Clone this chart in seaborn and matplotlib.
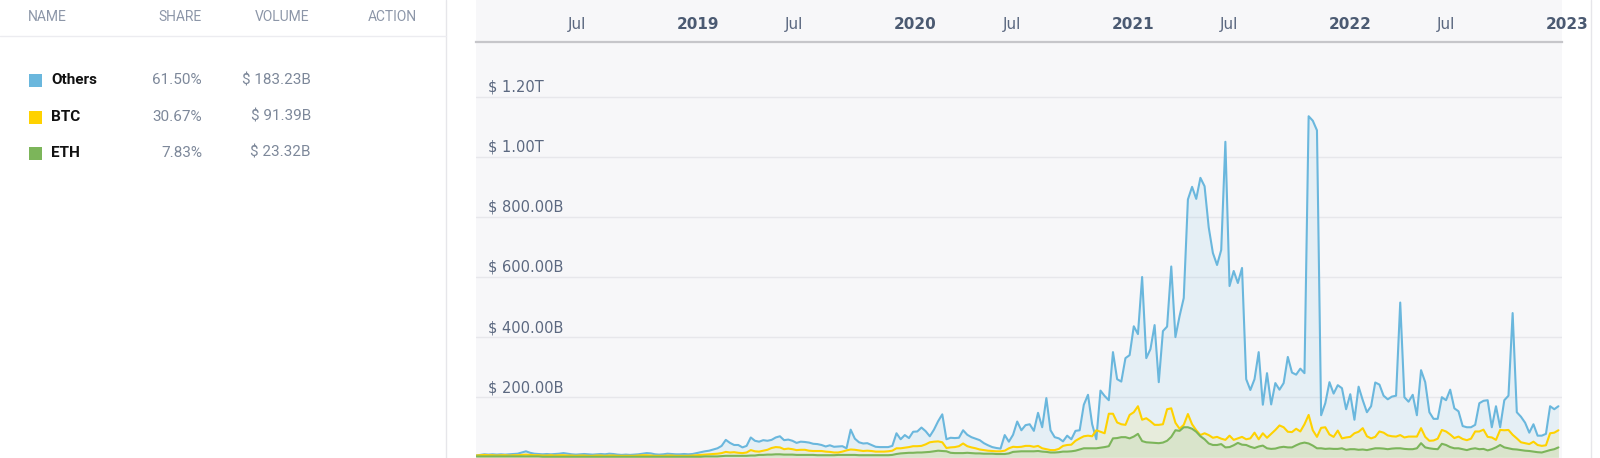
import pandas as pd
import matplotlib
matplotlib.use("Agg")
import matplotlib.pyplot as plt
import seaborn as sns
from matplotlib.patches import Rectangle
from matplotlib.lines import Line2D

# weekly trading volume, billions of USD
start_date = "2018-01-28"
others = [
    6, 8, 10, 9, 10, 9, 10, 9, 10, 11,
    12, 16, 20, 15, 12, 11, 10, 11, 10, 11,
    12, 14, 12, 10, 9, 10, 11, 10, 9, 10,
    11, 10, 12, 11, 9, 8, 9, 8, 9, 10,
    12, 14, 13, 10, 9, 10, 12, 11, 10, 10,
    11, 10, 11, 14, 17, 20, 22, 26, 30, 38,
    58, 48, 41, 41, 33, 38, 66, 55, 52, 57,
    55, 58, 66, 70, 57, 59, 55, 48, 52, 51,
    49, 45, 44, 41, 36, 40, 35, 36, 37, 30,
    92, 62, 50, 46, 47, 41, 35, 34, 34, 34,
    38, 80, 60, 74, 64, 85, 86, 99, 87, 70,
    92, 120, 143, 60, 65, 64, 65, 90, 75, 67,
    62, 57, 47, 40, 34, 31, 29, 74, 52, 75,
    119, 90, 107, 110, 88, 148, 100, 197, 90, 67,
    63, 53, 72, 60, 88, 90, 175, 208, 110, 60,
    222, 204, 190, 350, 260, 252, 330, 340, 436, 410,
    600, 330, 360, 440, 250, 420, 435, 635, 400, 470,
    530, 858, 900, 860, 930, 902, 765, 680, 640, 690,
    1050, 570, 620, 580, 630, 260, 224, 260, 350, 175,
    280, 176, 247, 225, 247, 334, 282, 275, 295, 280,
    1135, 1120, 1088, 140, 180, 250, 212, 240, 230, 160,
    210, 125, 235, 190, 150, 170, 249, 242, 205, 193,
    202, 205, 515, 200, 185, 208, 140, 290, 250, 150,
    128, 128, 200, 190, 225, 163, 153, 104, 100, 100,
    108, 180, 188, 190, 100, 170, 100, 190, 205, 480,
    150, 135, 115, 82, 110, 72, 72, 78, 170, 160,
    170,
]
btc = [
    6, 7, 8, 7, 7, 6, 7, 7, 6, 7,
    7, 8, 9, 8, 7, 7, 6, 6, 7, 6,
    7, 7, 6, 6, 5, 6, 6, 5, 5, 6,
    6, 5, 6, 6, 5, 5, 5, 5, 5, 6,
    7, 7, 6, 5, 5, 5, 6, 6, 5, 5,
    5, 5, 6, 7, 8, 9, 10, 11, 12, 14,
    18, 16, 17, 15, 14, 16, 24, 20, 19, 22,
    25, 31, 34, 33, 27, 29, 27, 24, 25, 25,
    22, 21, 21, 21, 19, 18, 16, 16, 19, 23,
    26, 25, 23, 21, 22, 21, 19, 19, 19, 20,
    22, 30, 30, 32, 34, 37, 37, 38, 43, 50,
    52, 53, 50, 31, 33, 34, 37, 46, 37, 33,
    30, 26, 24, 22, 21, 20, 20, 22, 30, 35,
    34, 35, 38, 38, 35, 38, 30, 27, 24, 24,
    28, 38, 41, 42, 55, 63, 70, 72, 70, 90,
    85, 80, 145, 145, 116, 110, 108, 141, 150, 170,
    125, 130, 120, 108, 108, 110, 160, 163, 115, 95,
    108, 144, 110, 90, 74, 80, 74, 65, 68, 62,
    58, 72, 58, 63, 68, 60, 63, 82, 60, 80,
    65, 78, 91, 106, 100, 85, 84, 95, 86, 110,
    141, 90, 68, 98, 100, 76, 68, 89, 63, 66,
    68, 80, 85, 97, 70, 63, 68, 86, 82, 73,
    70, 69, 74, 66, 69, 69, 69, 97, 68, 55,
    56, 62, 91, 86, 76, 64, 69, 61, 57, 62,
    86, 86, 92, 68, 66, 58, 91, 90, 91, 75,
    63, 50, 47, 44, 52, 41, 38, 40, 80, 82,
    90,
]
eth = [
    3, 3, 3, 3, 3, 3, 3, 3, 3, 3,
    3, 3, 3, 3, 3, 3, 2, 2, 2, 2,
    2, 2, 2, 2, 2, 2, 2, 2, 2, 2,
    2, 2, 2, 2, 2, 2, 2, 2, 2, 2,
    2, 2, 2, 2, 2, 2, 2, 2, 2, 2,
    2, 2, 2, 2, 2, 3, 3, 3, 3, 4,
    5, 5, 5, 5, 5, 5, 6, 6, 8, 8,
    9, 9, 10, 10, 9, 9, 9, 8, 8, 8,
    8, 8, 7, 7, 7, 7, 7, 8, 8, 8,
    8, 8, 7, 7, 7, 7, 7, 7, 7, 7,
    8, 11, 13, 14, 15, 15, 16, 16, 17, 18,
    20, 22, 21, 20, 15, 14, 14, 14, 15, 14,
    13, 13, 12, 12, 12, 11, 11, 11, 13, 18,
    19, 20, 20, 20, 20, 21, 19, 18, 16, 16,
    17, 19, 19, 20, 22, 26, 30, 30, 30, 30,
    32, 34, 37, 63, 64, 67, 67, 63, 69, 78,
    54, 50, 49, 48, 47, 49, 55, 68, 90, 88,
    100, 100, 95, 85, 70, 60, 46, 41, 41, 44,
    33, 34, 40, 48, 42, 41, 35, 31, 36, 39,
    30, 28, 29, 33, 35, 33, 33, 40, 46, 49,
    46, 39, 30, 30, 28, 29, 28, 28, 30, 25,
    27, 27, 25, 26, 24, 27, 30, 30, 29, 27,
    29, 30, 30, 28, 27, 27, 30, 47, 33, 30,
    28, 27, 45, 41, 34, 30, 30, 27, 24, 28,
    30, 27, 28, 23, 27, 33, 41, 33, 30, 27,
    26, 24, 22, 21, 19, 17, 16, 20, 24, 27,
    33,
]

series_names = ["Others", "BTC", "ETH"]
series_colors = ["#6ab7dd", "#ffd200", "#7cb55a"]
fill_alpha = [0.12, 0.10, 0.13]
shares = ["61.50%", "30.67%", "7.83%"]
volumes = ["$ 183.23B", "$ 91.39B", "$ 23.32B"]
headers = ["NAME", "SHARE", "VOLUME", "ACTION"]

y_ticks = [200, 400, 600, 800, 1000, 1200]
y_labels = ["$ 200.00B", "$ 400.00B", "$ 600.00B", "$ 800.00B", "$ 1.00T", "$ 1.20T"]
x_ticks = ["2018-07-01", "2019-01-01", "2019-07-01", "2020-01-01", "2020-07-01",
           "2021-01-01", "2021-07-01", "2022-01-01", "2022-07-01", "2023-01-01"]
x_labels = ["Jul", "2019", "Jul", "2020", "Jul", "2021", "Jul", "2022", "Jul", "2023"]

dates = pd.date_range(start_date, periods=len(others), freq="7D")
wide = pd.DataFrame({"date": dates, "Others": others, "BTC": btc, "ETH": eth})
df = wide.melt(id_vars="date", var_name="series", value_name="volume")

sns.set_style("white")
plt.rcParams["font.family"] = ["DejaVu Sans"]

W, H = 1600, 458
fig = plt.figure(figsize=(W / 100, H / 100), dpi=100)


def fx(x):
    return x / W


def fy(y):
    return 1 - y / H


# chart background panel
fig.add_artist(Rectangle((fx(476), 0), fx(1086), 1, transform=fig.transFigure,
                         facecolor="#f7f7f9", edgecolor="none", zorder=-10))
fig.add_artist(Line2D([fx(446), fx(446)], [0, 1], transform=fig.transFigure,
                      color="#e6e6ea", lw=1))
fig.add_artist(Line2D([fx(1591), fx(1591)], [0, 1], transform=fig.transFigure,
                      color="#e6e6ea", lw=1))
fig.add_artist(Line2D([0, fx(446)], [fy(36), fy(36)], transform=fig.transFigure,
                      color="#ececf0", lw=1))

ax = fig.add_axes([fx(476), 0, fx(1086), 1 - 42 / H])
ax.set_facecolor("none")

for name, col, a in zip(series_names, series_colors, fill_alpha):
    ax.fill_between(wide["date"], wide[name], color=col, alpha=a, lw=0)

sns.lineplot(data=df, x="date", y="volume", hue="series", hue_order=series_names,
             palette=series_colors, linewidth=1.5, legend=False, ax=ax)

ax.set_xlim(pd.Timestamp(start_date), pd.Timestamp("2023-01-28"))
ax.set_ylim(-2.3, 1382)
ax.set_xlabel("")
ax.set_ylabel("")

for s in ["left", "right", "bottom"]:
    ax.spines[s].set_visible(False)
ax.spines["top"].set_color("#c6c6ca")
ax.spines["top"].set_linewidth(1.6)

ax.xaxis.tick_top()
ax.set_xticks(pd.to_datetime(x_ticks))
ax.set_xticklabels(x_labels)
ax.tick_params(axis="x", length=0, pad=7, labelsize=11, labelcolor="#5b6880")
for lbl, txt in zip(ax.get_xticklabels(), x_labels):
    lbl.set_ha("left")
    if txt.isdigit():
        lbl.set_fontweight("bold")
        lbl.set_color("#4b5a72")

ax.set_yticks(y_ticks)
ax.tick_params(axis="y", length=0, labelleft=False)
ax.set_axisbelow(True)
ax.grid(axis="y", color="#e7e7eb", lw=1)
ax.grid(axis="x", visible=False)
for v, lab in zip(y_ticks, y_labels):
    ax.annotate(lab, xy=(0, v), xycoords=("axes fraction", "data"),
                xytext=(9, 1.5), textcoords="offset points",
                ha="left", va="bottom", fontsize=10.5, color="#5b6880")

# left table
head_x = [28, 202, 309, 417]
head_ha = ["left", "right", "right", "right"]
for h, x, ha in zip(headers, head_x, head_ha):
    fig.text(fx(x), fy(17), h, ha=ha, va="center", fontsize=10,
             color="#8c96a8", family="Roboto")

row_y = [80, 117, 153]
for name, col, sh, vol, y in zip(series_names, series_colors, shares, volumes, row_y):
    fig.add_artist(Rectangle((fx(29), fy(y + 6.5)), fx(13), 13 / H,
                             transform=fig.transFigure, facecolor=col,
                             edgecolor="none"))
    fig.text(fx(51), fy(y), name, ha="left", va="center", fontsize=11,
             fontweight="bold", color="#111111", family="Roboto")
    fig.text(fx(202), fy(y), sh, ha="right", va="center", fontsize=11,
             color="#7d889a", family="Roboto")
    fig.text(fx(311), fy(y), vol, ha="right", va="center", fontsize=11,
             color="#7d889a", family="Roboto")

fig.savefig("out.png", dpi=100)
